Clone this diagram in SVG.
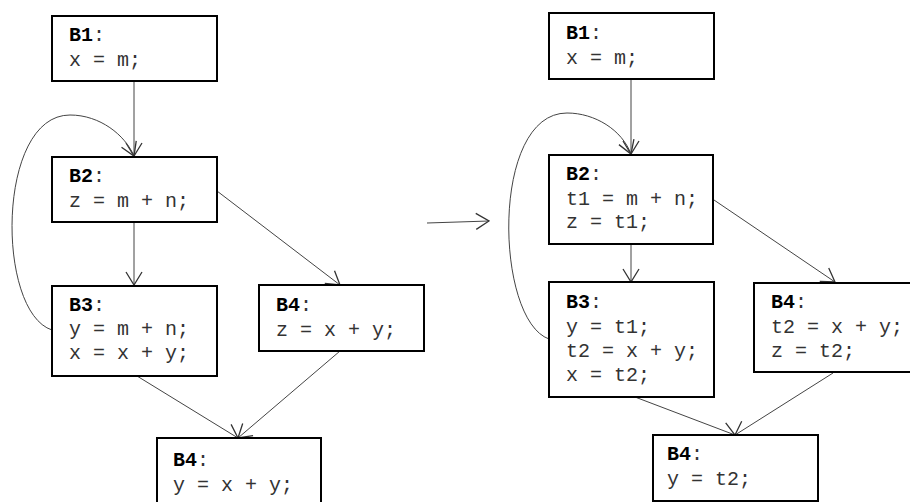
<svg xmlns="http://www.w3.org/2000/svg" width="910" height="502" viewBox="0 0 910 502">
<style>
.box{fill:#fff;stroke:#000;stroke-width:2}
.t{font-family:"Courier New","Liberation Mono",monospace;font-size:20px;fill:#333}
.b{font-weight:bold;fill:#000}
.e{fill:none;stroke:#444;stroke-width:1}
</style>
<defs>
<marker id="ah" markerUnits="userSpaceOnUse" viewBox="-1 -9 15 18" refX="13" refY="0" markerWidth="15" markerHeight="18" orient="auto">
<path d="M0,-8 L13,0 L0,8" fill="none" stroke="#333" stroke-width="1.3"/>
</marker>
</defs>
<rect width="910" height="502" fill="#fff"/>
<g id="connectors">
<line class="e" x1="134" y1="81" x2="134" y2="156" marker-end="url(#ah)"/>
<line class="e" x1="134" y1="222" x2="134" y2="285" marker-end="url(#ah)"/>
<line class="e" x1="217" y1="191" x2="340" y2="285" marker-end="url(#ah)"/>
<line class="e" x1="137" y1="376" x2="238" y2="438" marker-end="url(#ah)"/>
<line class="e" x1="340" y1="351" x2="238" y2="438" marker-end="url(#ah)"/>
<path class="e" d="M52,330 C-4,312 -4,115 70,115 C100,115 125,135 134,156" marker-end="url(#ah)"/>
<line class="e" x1="427" y1="223" x2="489" y2="221" marker-end="url(#ah)"/>
<line class="e" x1="631" y1="79" x2="631" y2="154" marker-end="url(#ah)"/>
<line class="e" x1="631" y1="245" x2="631" y2="282" marker-end="url(#ah)"/>
<line class="e" x1="714" y1="200" x2="835" y2="282" marker-end="url(#ah)"/>
<line class="e" x1="635" y1="397" x2="735" y2="435" marker-end="url(#ah)"/>
<line class="e" x1="833" y1="373" x2="735" y2="435" marker-end="url(#ah)"/>
<path class="e" d="M549,339 C495,320 490,113 567,113 C595,113 622,130 631,154" marker-end="url(#ah)"/>
</g>
<g id="L-B1"><rect class="box" x="52" y="16" width="165" height="65"/>
<text class="t" x="69" y="41"><tspan class="b">B1</tspan>:</text>
<text class="t" x="69" y="66">x = m;</text></g>
<g id="L-B2"><rect class="box" x="52" y="157" width="165" height="65"/>
<text class="t" x="69" y="182"><tspan class="b">B2</tspan>:</text>
<text class="t" x="69" y="207">z = m + n;</text></g>
<g id="L-B3"><rect class="box" x="52" y="286" width="165" height="90"/>
<text class="t" x="69" y="311"><tspan class="b">B3</tspan>:</text>
<text class="t" x="69" y="335">y = m + n;</text>
<text class="t" x="69" y="359">x = x + y;</text></g>
<g id="L-B4a"><rect class="box" x="259" y="285" width="165" height="66"/>
<text class="t" x="276" y="311"><tspan class="b">B4</tspan>:</text>
<text class="t" x="276" y="336">z = x + y;</text></g>
<g id="L-B4b"><rect class="box" x="157" y="438" width="164" height="80"/>
<text class="t" x="173" y="466"><tspan class="b">B4</tspan>:</text>
<text class="t" x="173" y="491">y = x + y;</text></g>
<g id="R-B1"><rect class="box" x="549" y="13" width="165" height="66"/>
<text class="t" x="566" y="39"><tspan class="b">B1</tspan>:</text>
<text class="t" x="566" y="64">x = m;</text></g>
<g id="R-B2"><rect class="box" x="549" y="155" width="164" height="89"/>
<text class="t" x="566" y="180"><tspan class="b">B2</tspan>:</text>
<text class="t" x="566" y="205">t1 = m + n;</text>
<text class="t" x="566" y="228">z = t1;</text></g>
<g id="R-B3"><rect class="box" x="549" y="282" width="165" height="115"/>
<text class="t" x="566" y="308"><tspan class="b">B3</tspan>:</text>
<text class="t" x="566" y="333">y = t1;</text>
<text class="t" x="566" y="357">t2 = x + y;</text>
<text class="t" x="566" y="381">x = t2;</text></g>
<g id="R-B4a"><rect class="box" x="754" y="283" width="170" height="89"/>
<text class="t" x="771" y="308"><tspan class="b">B4</tspan>:</text>
<text class="t" x="771" y="333">t2 = x + y;</text>
<text class="t" x="771" y="357">z = t2;</text></g>
<g id="R-B4b"><rect class="box" x="653" y="435" width="165" height="66"/>
<text class="t" x="667" y="460"><tspan class="b">B4</tspan>:</text>
<text class="t" x="667" y="485">y = t2;</text></g>
</svg>
